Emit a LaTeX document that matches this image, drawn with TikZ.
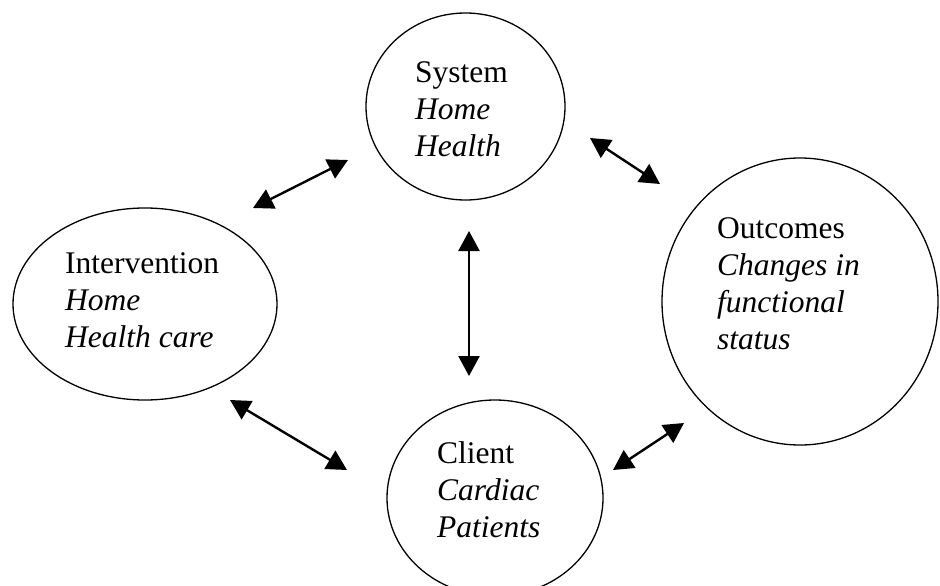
\documentclass[tikz,border=0pt]{standalone}
\usepackage{fontspec}
\setmainfont{Liberation Serif}
\usetikzlibrary{shapes.geometric,arrows.meta}

\tikzset{
  area/.style={draw, ellipse, line width=1.3pt, inner sep=0pt},
  caption/.style={anchor=base west, inner sep=0pt,
    font=\fontsize{31.5}{37}\selectfont},
  link/.style={line width=2.4pt,
    {Triangle[length=20pt,width=21pt]}-{Triangle[length=20pt,width=21pt]}}
}

\newcommand{\stack}[1]{\begin{tabular}[t]{@{}l@{}}#1\end{tabular}}

\begin{document}
\begin{tikzpicture}[x=1pt,y=-1pt]
  \useasboundingbox (0,0) rectangle (940,586);

  % the four areas of the model
  \node[area, minimum width=199pt, minimum height=187pt] (sys) at (465.5,106.5) {};
  \node[area, minimum width=264pt, minimum height=192pt] (int) at (145,304) {};
  \node[area, minimum width=276pt, minimum height=287pt] (out) at (800,301.5) {};
  \node[area, minimum width=216pt, minimum height=196pt] (cli) at (495,498) {};

  % their labels
  \node[caption] (sysT) at (415,82)  {\stack{System\\\textit{Home}\\\textit{Health}}};
  \node[caption] (intT) at (65,273)  {\stack{Intervention\\\textit{Home}\\\textit{Health care}}};
  \node[caption] (outT) at (717,238) {\stack{Outcomes\\\textit{Changes in}\\\textit{functional}\\\textit{status}}};
  \node[caption] (cliT) at (437,463) {\stack{Client\\\textit{Cardiac}\\\textit{Patients}}};

  % ends of the two-way arrows in the gaps between the areas
  \coordinate (si1) at (253,208);  \coordinate (si2) at (348,160);
  \coordinate (so1) at (590,138);  \coordinate (so2) at (660,184);
  \coordinate (sc1) at (469,231);  \coordinate (sc2) at (469,376);
  \coordinate (ic1) at (230,400);  \coordinate (ic2) at (347,470);
  \coordinate (co1) at (613,470);  \coordinate (co2) at (684,423);

  \draw[link] (si1) -- (si2);
  \draw[link] (so1) -- (so2);
  \draw[link] (sc1) -- (sc2);
  \draw[link] (ic1) -- (ic2);
  \draw[link] (co1) -- (co2);
\end{tikzpicture}
\end{document}
